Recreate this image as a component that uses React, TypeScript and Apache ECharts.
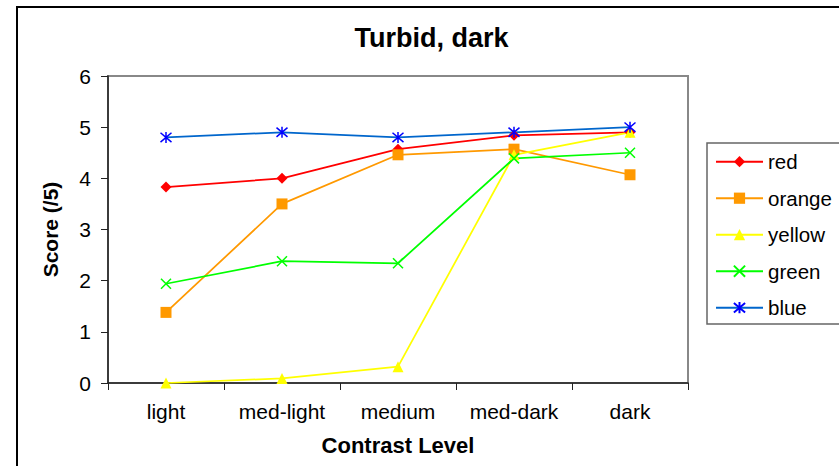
import React, { useEffect, useRef } from "react";
import * as echarts from "echarts";

const categories = ["light", "med-light", "medium", "med-dark", "dark"];
const redValues = [3.83, 4.0, 4.57, 4.84, 4.9];
const orangeValues = [1.38, 3.5, 4.46, 4.57, 4.07];
const yellowValues = [0, 0.09, 0.32, 4.46, 4.9];
const greenValues = [1.94, 2.38, 2.34, 4.39, 4.5];
const blueValues = [4.8, 4.9, 4.8, 4.9, 5.0];
const seriesNames = ["red", "orange", "yellow", "green", "blue"];

const FONT = "'Liberation Sans', Arial, sans-serif";
const X_PATH = "path://M0,0L11,11M11,0L0,11";
const STAR_PATH = "path://M0,0L11,11M11,0L0,11M5.5,-1L5.5,12";

export default function App() {
  const ref = useRef<HTMLDivElement>(null);
  useEffect(() => {
    document.body.style.margin = "0";
    const chart = echarts.init(ref.current!, undefined, { renderer: "svg" });
    const line = (
      name: string,
      data: number[],
      color: string,
      symbol: string,
      symbolSize: number,
      stroked?: boolean,
      markerColor?: string
    ) => ({
      name,
      type: "line",
      data,
      symbol,
      symbolSize,
      showSymbol: true,
      lineStyle: { color, width: 1.75 },
      itemStyle: stroked
        ? { color: "rgba(0,0,0,0)", borderColor: markerColor || color, borderWidth: 1.5 }
        : { color: markerColor || color },
      emphasis: { disabled: true },
    });
    chart.setOption({
      animation: false,
      backgroundColor: "#ffffff",
      textStyle: { fontFamily: FONT },
      graphic: [
        {
          type: "rect",
          z: 0,
          shape: { x: 17, y: 7, width: 900, height: 600 },
          style: { fill: "none", stroke: "#000", lineWidth: 2 },
        },
        {
          type: "rect",
          z: 0,
          shape: { x: 707, y: 143, width: 200, height: 181 },
          style: { fill: "none", stroke: "#666", lineWidth: 1.5 },
        },
        {
          type: "text",
          x: 431.5,
          y: 24,
          style: {
            text: "Turbid, dark",
            textAlign: "center",
            textVerticalAlign: "top",
            font: `bold 27px ${FONT}`,
            fill: "#000",
          },
        },
      ],
      grid: { left: 108, right: 151, top: 76, bottom: 83, show: true, borderColor: "#888", borderWidth: 2, backgroundColor: "transparent" },
      legend: {
        orient: "vertical",
        left: 715,
        top: 150.7,
        padding: 0,
        itemWidth: 47,
        itemHeight: 14,
        itemGap: 14.5,
        data: seriesNames,
        textStyle: { fontSize: 20.5, lineHeight: 22, color: "#000", fontFamily: FONT },
      },
      xAxis: {
        type: "category",
        data: categories,
        boundaryGap: true,
        axisLine: { lineStyle: { color: "#222", width: 1.5 } },
        axisTick: { show: true, length: 7, inside: false, lineStyle: { color: "#222" } },
        axisLabel: { color: "#000", fontSize: 21, margin: 18, fontFamily: FONT },
        name: "Contrast Level",
        nameLocation: "middle",
        nameGap: 51,
        nameTextStyle: { fontSize: 22, fontWeight: "bold", color: "#000", fontFamily: FONT },
        splitLine: { show: false },
      },
      yAxis: {
        type: "value",
        min: 0,
        max: 6,
        interval: 1,
        axisLine: { show: true, lineStyle: { color: "#222", width: 1.5 } },
        axisTick: { show: true, length: 7, lineStyle: { color: "#222" } },
        axisLabel: { color: "#000", fontSize: 21, margin: 17, fontFamily: FONT },
        splitLine: { show: false },
        name: "Score (/5)",
        nameLocation: "middle",
        nameGap: 47,
        nameTextStyle: { fontSize: 21, fontWeight: "bold", color: "#000", fontFamily: FONT },
      },
      series: [
        line("red", redValues, "#ff0000", "diamond", 11),
        line("orange", orangeValues, "#ff9900", "rect", 11),
        line("yellow", yellowValues, "#ffff00", "triangle", 11),
        line("green", greenValues, "#00ff00", X_PATH, 10, true),
        line("blue", blueValues, "#0066cc", STAR_PATH, 11, true, "#0000ff"),
      ],
    });
    return () => chart.dispose();
  }, []);
  return <div ref={ref} style={{ width: 839, height: 466 }} />;
}
